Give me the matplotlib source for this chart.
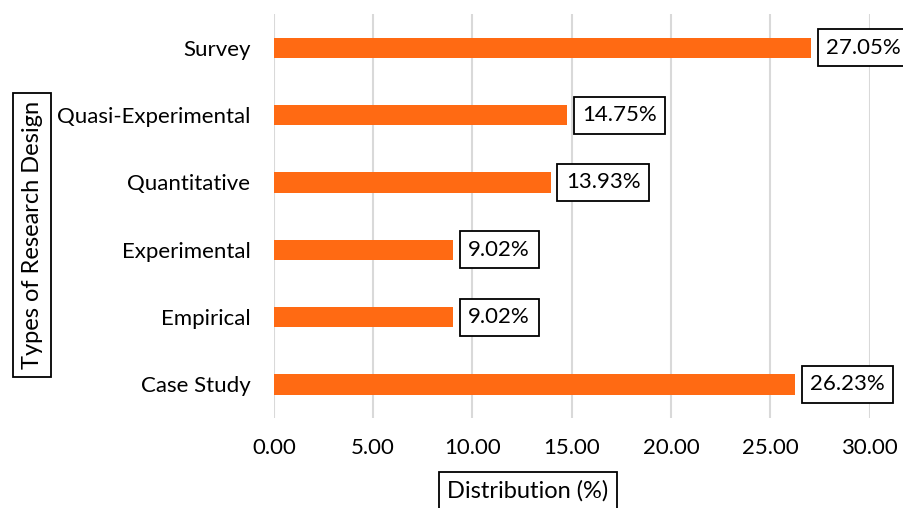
import matplotlib
matplotlib.use('Agg')
import matplotlib.pyplot as plt

plt.rcParams['font.family'] = ['Lato', 'DejaVu Sans']

designs = ['Case Study', 'Empirical', 'Experimental', 'Quantitative', 'Quasi-Experimental', 'Survey']
shares = [26.23, 9.02, 9.02, 13.93, 14.75, 27.05]
xticks = [0, 5, 10, 15, 20, 25, 30]

fig = plt.figure(figsize=(9.04, 5.08), dpi=100)
ax = fig.add_axes([0.303, 0.177, 0.659, 0.795])

ax.barh(designs, shares, height=0.3, color='#FF6A13', zorder=3)
for y, v in enumerate(shares):
    ax.annotate(f'{v:.2f}%', (v, y), xytext=(11, 0), textcoords='offset points',
                ha='left', va='center', fontsize=16, annotation_clip=False,
                bbox=dict(boxstyle='square,pad=0.38', fc='white', ec='black', lw=1.3),
                zorder=4)

ax.set_xlim(0, 30)
ax.set_ylim(-0.5, 5.5)
ax.set_xticks(xticks)
ax.set_xticklabels([f'{t:.2f}' for t in xticks])
ax.grid(axis='x', color='#D9D9D9', lw=1.5, zorder=0)
for s in ax.spines.values():
    s.set_visible(False)
ax.tick_params(length=0, labelsize=16, colors='black')
ax.tick_params(axis='x', pad=14)
ax.tick_params(axis='y', pad=17)

box = dict(boxstyle='square,pad=0.35', fc='white', ec='black', lw=1.3)
ax.set_xlabel('Distribution (%)', fontsize=17, bbox=box, va='center', ha='center')
ax.xaxis.set_label_coords(0.426, -0.18)
ax.set_ylabel('Types of Research Design', fontsize=17, bbox=box, va='center', ha='center')
ax.yaxis.set_label_coords(-0.406, 0.453)

fig.savefig('out.png', dpi=100)
